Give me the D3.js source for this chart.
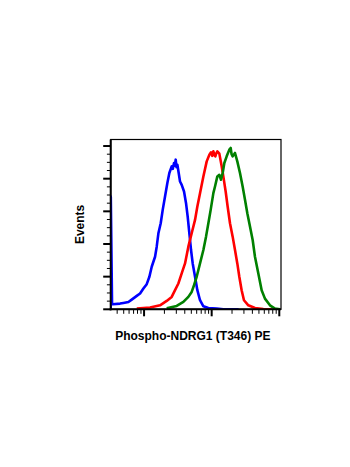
<!DOCTYPE html>
<html>
<head>
<meta charset="utf-8">
<script src="https://cdn.jsdelivr.net/npm/d3@7"></script>
<style>
  html, body { margin: 0; padding: 0; background: #fff; }
  svg { display: block; }
  text { font-family: "Liberation Sans", Arial, sans-serif; font-weight: bold; fill: #000; }
</style>
</head>
<body>
<svg id="chart" width="350" height="467"></svg>
<script>
// Histogram overlays: fluorescence intensity (PE channel) vs. event count
const blueIntensity = [32.1, 32.2, 33.6, 34.4, 44.2, 49.5, 58.7, 65.7, 78.0, 87.3, 97.8, 109.5, 119.9, 129.8, 145.4, 153.8, 162.9, 176.3, 188.7, 204.2, 221.1, 236.6, 256.2, 266, 277.4, 285, 293.6, 302, 311.0, 325.2, 340.3, 360.3, 390.0, 417.5, 441.7, 467.7, 495.1, 524.0, 567.3, 614.0, 672.4, 753.6, 893.3, 1186, 1487, 2500];
const blueCounts    = [0, 138, 6.5, 6.2, 7.0, 7.8, 9.0, 11.9, 16.4, 19.3, 25.4, 30.8, 39.8, 52.1, 64.4, 76.7, 93.1, 105.4, 121.8, 138.2, 154.6, 166.9, 175.1, 172, 179.2, 176, 183.3, 174, 177.1, 166.9, 156.6, 152.5, 144.3, 130.0, 113.6, 93.1, 72.6, 56.2, 39.8, 23.4, 11.1, 3.7, 1.6, 0.8, 0, 0];

const redIntensity = [78, 122.7, 172.2, 216.1, 256.2, 287.2, 321.6, 360.3, 403.6, 451.9, 506.2, 567.3, 614.0, 672.4, 753.6, 844.3, 924.5, 977.3, 1020, 1059, 1100, 1133, 1170, 1213, 1298, 1406, 1487, 1610, 1722, 1866, 2043, 2213, 2394, 2563, 2774, 3004, 3484, 4369, 5802, 7709];
const redCounts    = [0.8, 2.1, 4.9, 10.3, 15.2, 23.4, 31.6, 43.9, 56.2, 76.7, 93.1, 109.5, 125.9, 142.3, 162.8, 181.2, 189.4, 192.3, 188, 193.5, 189, 187.4, 191, 193.5, 190.7, 175.1, 162.8, 144.3, 125.9, 105.4, 89.0, 72.6, 56.2, 39.8, 23.4, 11.1, 4.9, 1.6, 0.4, 0];

const greenIntensity = [216.1, 303.9, 381.2, 451.9, 506.2, 548.0, 600.0, 672.4, 753.6, 824.9, 893.3, 966.4, 1059, 1120, 1213, 1298, 1374, 1455, 1539, 1667, 1825, 1910, 1970, 2043, 2213, 2394, 2623, 2871, 3110, 3367, 3686, 4039, 4369, 4898, 5483, 6138, 7278, 8630, 10230];
const greenCounts    = [1.2, 4.1, 9.0, 15.2, 21.3, 29.5, 39.8, 56.2, 72.6, 89.0, 105.4, 121.8, 142.3, 150.5, 162.8, 164.8, 158.7, 166.9, 179.2, 187.4, 195.6, 197.6, 190, 187.4, 191.5, 181.2, 166.9, 150.5, 134.1, 117.7, 101.3, 84.9, 64.4, 43.9, 23.4, 13.1, 4.9, 0.8, 0];

const xMajorTicks = [100, 1000, 10000];
const xMinorTicks = [40, 50, 60, 70, 80, 90, 200, 300, 400, 500, 600, 700, 800, 900, 2000, 3000, 4000, 5000, 6000, 7000, 8000, 9000];
const yMajorTicks = [0, 40, 80, 120, 160, 200];
const yMinorTicks = [10, 20, 30, 50, 60, 70, 90, 100, 110, 130, 140, 150, 170, 180, 190];

const xLabel = "Phospho-NDRG1 (T346) PE";
const yLabel = "Events";

const series = [
  { x: blueIntensity,  y: blueCounts,  color: "#0000ff" },
  { x: redIntensity,   y: redCounts,   color: "#ff0000" },
  { x: greenIntensity, y: greenCounts, color: "#008000" }
];

const plot = { left: 110.7, right: 281, top: 139.5, bottom: 309.3 };

const x = d3.scaleLog().domain([32.1, 10600]).range([plot.left, plot.right]);
const y = d3.scaleLinear().domain([0, 208]).range([plot.bottom, plot.top]);

const svg = d3.select("#chart");

svg.append("defs").append("clipPath").attr("id", "plot-clip")
  .append("rect")
  .attr("x", plot.left).attr("y", plot.top - 2)
  .attr("width", plot.right - plot.left).attr("height", plot.bottom - plot.top + 2);

// frame
svg.append("rect")
  .attr("x", plot.left).attr("y", plot.top)
  .attr("width", plot.right - plot.left).attr("height", plot.bottom - plot.top)
  .attr("fill", "none").attr("stroke", "#000").attr("stroke-width", 1.2);

// histogram curves
const line = d3.line().x(d => x(d[0])).y(d => y(d[1]));
const curves = svg.append("g").attr("clip-path", "url(#plot-clip)");
series.forEach(s => {
  curves.append("path")
    .datum(s.x.map((v, i) => [v, s.y[i]]))
    .attr("d", line)
    .attr("fill", "none")
    .attr("stroke", s.color)
    .attr("stroke-width", 2.6)
    .attr("stroke-linejoin", "round");
});

// left and bottom axis lines
svg.append("line")
  .attr("x1", plot.left).attr("x2", plot.left)
  .attr("y1", plot.top).attr("y2", plot.bottom + 1)
  .attr("stroke", "#000").attr("stroke-width", 2);
svg.append("line")
  .attr("x1", plot.left - 1).attr("x2", plot.right)
  .attr("y1", plot.bottom).attr("y2", plot.bottom)
  .attr("stroke", "#000").attr("stroke-width", 2);

// y ticks
const yt = svg.append("g");
yt.selectAll(".ymaj").data(yMajorTicks).join("line")
  .attr("x1", plot.left - 7.5).attr("x2", plot.left)
  .attr("y1", d => y(d)).attr("y2", d => y(d))
  .attr("stroke", "#000").attr("stroke-width", 2);
yt.selectAll(".ymin").data(yMinorTicks).join("line")
  .attr("x1", plot.left - 3.8).attr("x2", plot.left)
  .attr("y1", d => y(d)).attr("y2", d => y(d))
  .attr("stroke", "#000").attr("stroke-width", 1);

// x ticks
const xt = svg.append("g");
xt.selectAll(".xmaj").data(xMajorTicks).join("line")
  .attr("x1", d => x(d)).attr("x2", d => x(d))
  .attr("y1", plot.bottom).attr("y2", plot.bottom + 7)
  .attr("stroke", "#000").attr("stroke-width", 2);
xt.selectAll(".xmin").data(xMinorTicks).join("line")
  .attr("x1", d => x(d)).attr("x2", d => x(d))
  .attr("y1", plot.bottom).attr("y2", plot.bottom + 4.5)
  .attr("stroke", "#000").attr("stroke-width", 1);

// axis titles
svg.append("text")
  .attr("x", (plot.left + plot.right) / 2 - 3).attr("y", 340)
  .attr("text-anchor", "middle").attr("font-size", 12)
  .text(xLabel);
svg.append("text")
  .attr("transform", `translate(84,${(plot.top + plot.bottom) / 2}) rotate(-90)`)
  .attr("text-anchor", "middle").attr("font-size", 12)
  .text(yLabel);
</script>
</body>
</html>
